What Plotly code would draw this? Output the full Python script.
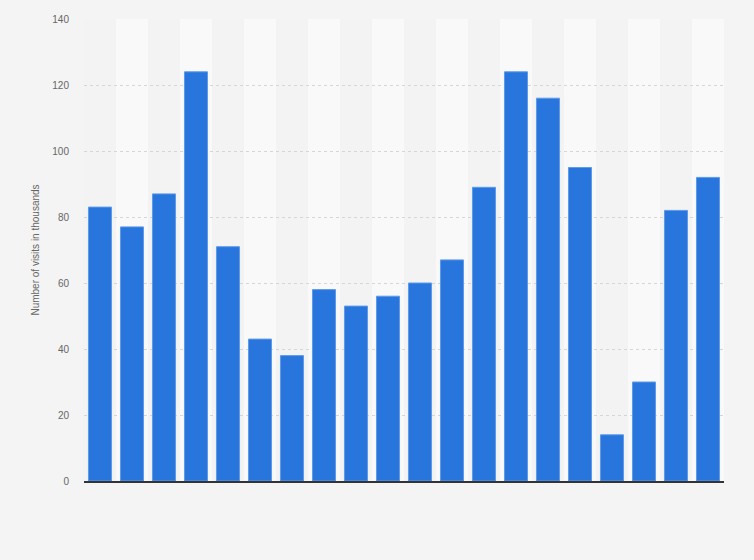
import plotly.graph_objects as go

# bar positions (no category labels are shown on the chart)
positions = list(range(1, 21))
visits = [83, 77, 87, 124, 71, 43, 38, 58, 53, 56, 60, 67, 89, 124, 116, 95, 14, 30, 82, 92]
y_ticks = [0, 20, 40, 60, 80, 100, 120, 140]

fig = go.Figure()

fig.add_trace(go.Bar(
    x=positions,
    y=visits,
    marker=dict(color='#2876dd', line=dict(color='#5d9ae8', width=1)),
    width=0.72,
    hoverinfo='y',
))

# lighter vertical band behind every second column
for p in positions:
    if p % 2 == 0:
        fig.add_shape(type='rect', xref='x', yref='paper',
                      x0=p - 0.5, x1=p + 0.5, y0=0, y1=1,
                      fillcolor='#f9f9f9', line=dict(width=0), layer='below')

fig.update_layout(
    width=754,
    height=560,
    paper_bgcolor='#f4f4f4',
    plot_bgcolor='#f3f3f3',
    margin=dict(l=84, r=30, t=19, b=79),
    showlegend=False,
    font=dict(family='Arial, Liberation Sans, sans-serif', color='#666666'),
    xaxis=dict(
        range=[0.5, 20.5],
        showticklabels=False,
        showgrid=False,
        zeroline=False,
        showline=True,
        linecolor='#333333',
        linewidth=1.5,
        fixedrange=True,
    ),
    yaxis=dict(
        range=[0, 140],
        tickvals=y_ticks,
        tickfont=dict(size=10, color='#666666'),
        showgrid=True,
        gridcolor='#d6d6d6',
        griddash='dot',
        gridwidth=1,
        zeroline=False,
        ticklabelstandoff=14,
        title=dict(text='Number of visits in thousands', font=dict(size=10, color='#666666'), standoff=10),
        fixedrange=True,
    ),
)

# drop the default page margin so the figure sits at the window's corner
fig.write_html("out.html", config={'displayModeBar': False},
               post_script="document.body.style.margin='0';")
